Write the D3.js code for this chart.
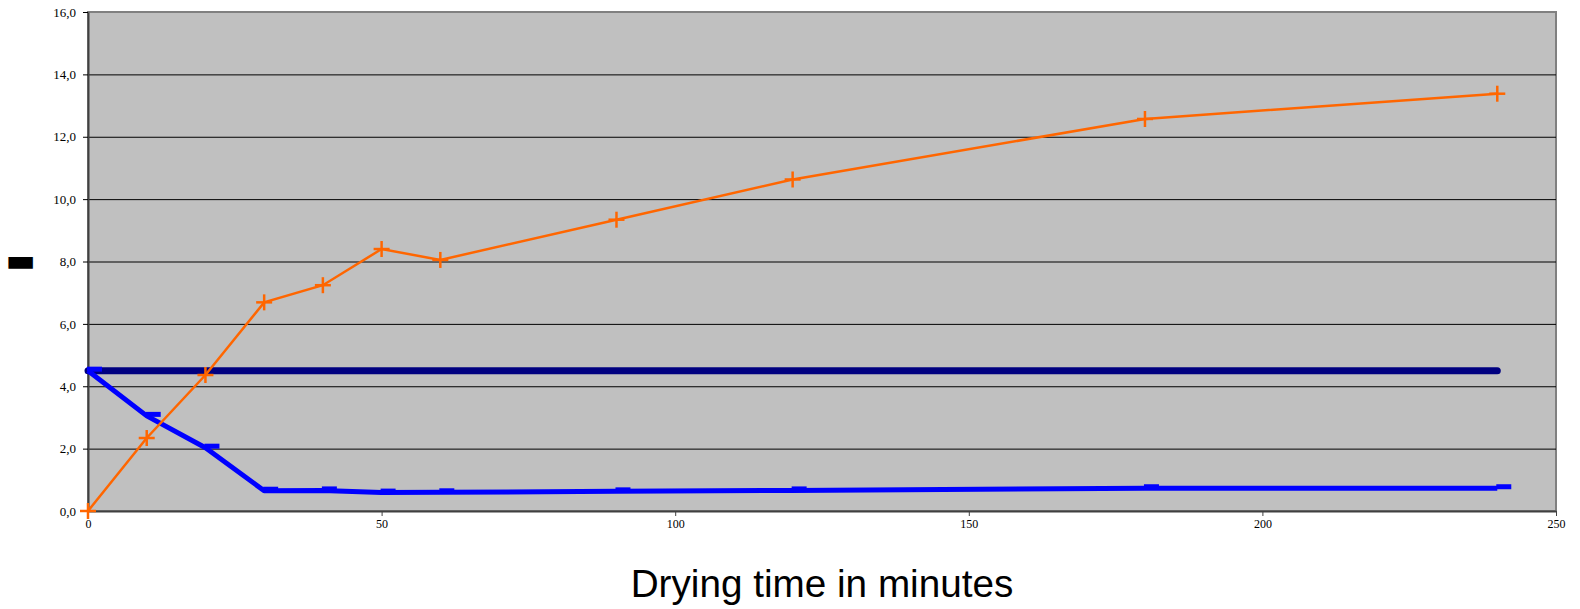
<!DOCTYPE html>
<html><head><meta charset="utf-8">
<script src="https://cdn.jsdelivr.net/npm/d3@7"></script>
<style>body{margin:0;background:#fff}svg{display:block}</style>
</head><body>
<svg id="c" width="1580" height="609"></svg>
<script>
const times = [0, 10, 20, 30, 40, 50, 60, 90, 120, 180, 240];
const orangeVals = [0.0, 2.34, 4.36, 6.69, 7.24, 8.40, 8.05, 9.34, 10.63, 12.57, 13.38];
const blueVals = [4.5, 3.05, 2.03, 0.65, 0.66, 0.59, 0.60, 0.63, 0.66, 0.73, 0.73];
const navyVals = [4.5, 4.5];
const navyTimes = [0, 240];
const xTicks = [0, 50, 100, 150, 200, 250];
const yTicks = [0, 2, 4, 6, 8, 10, 12, 14, 16];
const xTitle = "Drying time in minutes";
const yTitle = "▬";

const svg = d3.select("#c");
const L = 88, R = 1556, T = 12, B = 511;
const x = d3.scaleLinear().domain([0, 250]).range([L, R]);
const y = d3.scaleLinear().domain([0, 16]).range([B, T]);

svg.append("rect").attr("x", L).attr("y", T).attr("width", R - L).attr("height", B - T)
  .attr("fill", "#c0c0c0").attr("stroke", "#808080").attr("stroke-width", 2);

// gridlines
svg.append("g").selectAll("line").data(yTicks.filter(d => d > 0 && d < 16)).join("line")
  .attr("x1", L).attr("x2", R).attr("y1", d => y(d) + 0.5).attr("y2", d => y(d) + 0.5)
  .attr("stroke", "#000").attr("stroke-width", 1);

// axes
const yAxis = d3.axisLeft(y).tickValues(yTicks).tickSize(5).tickSizeOuter(0)
  .tickFormat(d => d3.format(".1f")(d).replace(".", ","));
const gy = svg.append("g").attr("transform", `translate(${L},0)`).call(yAxis);
gy.select(".domain").attr("stroke", "#404040").attr("stroke-width", 2);
gy.selectAll(".tick line").attr("stroke", "#000");
gy.selectAll(".tick text").attr("font-family", "Liberation Serif").attr("font-size", 13)
  .attr("fill", "#000").attr("x", -12);

const xAxis = d3.axisBottom(x).tickValues(xTicks).tickSize(5).tickSizeOuter(0).tickFormat(d3.format("d"));
const gx = svg.append("g").attr("transform", `translate(0,${B})`).call(xAxis);
gx.select(".domain").attr("stroke", "#404040").attr("stroke-width", 2);
gx.selectAll(".tick line").attr("stroke", "#404040");
gx.selectAll(".tick text").attr("font-family", "Liberation Serif").attr("font-size", 12)
  .attr("fill", "#000").attr("y", 8);

// navy line
svg.append("path").datum(navyTimes.map((t, i) => [t, navyVals[i]]))
  .attr("d", d3.line().x(d => x(d[0])).y(d => y(d[1])))
  .attr("fill", "none").attr("stroke", "#000080").attr("stroke-width", 7).attr("stroke-linecap", "round");

// blue line
const blueData = times.map((t, i) => [t, blueVals[i]]);
svg.append("path").datum(blueData)
  .attr("d", d3.line().x(d => x(d[0])).y(d => y(d[1])))
  .attr("fill", "none").attr("stroke", "#0000ff").attr("stroke-width", 5).attr("stroke-linejoin", "round");
svg.append("g").selectAll("rect").data(blueData).join("rect")
  .attr("x", d => x(d[0]) - 1).attr("y", d => y(d[1]) - 4).attr("width", 15).attr("height", 5)
  .attr("fill", "#0000ff");

// orange line
const orData = times.map((t, i) => [t, orangeVals[i]]);
svg.append("path").datum(orData)
  .attr("d", d3.line().x(d => x(d[0])).y(d => y(d[1])))
  .attr("fill", "none").attr("stroke", "#ff6600").attr("stroke-width", 2.5);
const plus = svg.append("g").selectAll("g").data(orData).join("g")
  .attr("transform", d => `translate(${x(d[0])},${y(d[1])})`);
plus.append("line").attr("x1", -8).attr("x2", 8).attr("stroke", "#ff6600").attr("stroke-width", 2.5);
plus.append("line").attr("y1", -8).attr("y2", 8).attr("stroke", "#ff6600").attr("stroke-width", 2.5);

// titles
svg.append("text").attr("x", (L + R) / 2).attr("y", 597).attr("text-anchor", "middle")
  .attr("font-family", "Liberation Sans").attr("font-size", 38.7).attr("fill", "#000").text(xTitle);
svg.append("text").attr("x", 20.5).attr("y", 259.5).attr("text-anchor", "middle")
  .attr("dominant-baseline", "central")
  .attr("font-family", "DejaVu Sans").attr("font-size", 32).attr("fill", "#000").text(yTitle);
</script>
</body></html>
